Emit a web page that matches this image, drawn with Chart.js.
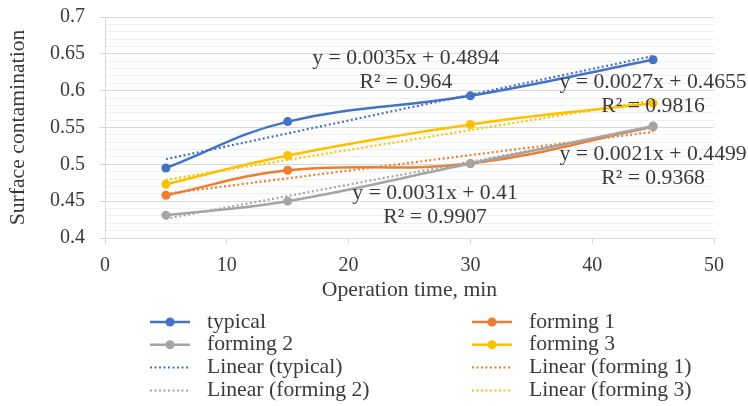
<!DOCTYPE html>
<html>
<head>
<meta charset="utf-8">
<script src="https://cdn.jsdelivr.net/npm/chart.js@4.4.1/dist/chart.umd.min.js"></script>
<style>
  html, body { margin: 0; padding: 0; background: #fff; }
  #wrap { position: relative; width: 748px; height: 406px; }
</style>
</head>
<body>
<div id="wrap"><canvas id="chart" width="748" height="406"></canvas></div>
<script>
// operation time, min
const times = [5, 15, 30, 45];

// surface contamination per series
const typical = [0.495, 0.558, 0.593, 0.642];
const forming1 = [0.458, 0.492, 0.501, 0.551];
const forming2 = [0.431, 0.450, 0.501, 0.552];
const forming3 = [0.473, 0.512, 0.554, 0.583];

// linear trend lines, value at first and last time
const trendTimes = [5, 45];
const typicalTrend = [0.507, 0.647];
const forming1Trend = [0.460, 0.544];
const forming2Trend = [0.426, 0.550];
const forming3Trend = [0.479, 0.587];

const trendEquations = ['y = 0.0035x + 0.4894', 'y = 0.0021x + 0.4499', 'y = 0.0031x + 0.41', 'y = 0.0027x + 0.4655'];
const trendR2 = ['R² = 0.964', 'R² = 0.9368', 'R² = 0.9907', 'R² = 0.9816'];

const yTickLabels = ['0.4', '0.45', '0.5', '0.55', '0.6', '0.65', '0.7'];

const FONT = "'Liberation Serif', 'Times New Roman', serif";
const TEXT = '#3a3a3a';

const series = [
    { label: 'typical', values: typical, trend: typicalTrend, color: '#4472C4' },
    { label: 'forming 1', values: forming1, trend: forming1Trend, color: '#ED7D31' },
    { label: 'forming 2', values: forming2, trend: forming2Trend, color: '#A5A5A5' },
    { label: 'forming 3', values: forming3, trend: forming3Trend, color: '#FFC000' },
];

// where the trend equation boxes sit (data coords of the first line centre)
const labelAnchors = [
    { x: 24.7, y: 0.644 },
    { x: 45.0, y: 0.514 },
    { x: 27.1, y: 0.461 },
    { x: 45.0, y: 0.612 },
];

const lineDatasets = series.map((s, i) => ({
    label: s.label,
    data: times.map((t, k) => ({ x: t, y: s.values[k] })),
    borderColor: s.color,
    backgroundColor: s.color,
    borderWidth: 2.5,
    tension: 0.4,
    pointRadius: 4.5,
    pointBorderWidth: 0,
    pointBackgroundColor: s.color,
    order: 8 - i,
}));

const trendDatasets = series.map((s, i) => ({
    label: 'Linear (' + s.label + ')',
    data: trendTimes.map((t, k) => ({ x: t, y: s.trend[k] })),
    borderColor: s.color,
    borderWidth: 2.2,
    borderDash: [2, 2.5],
    pointRadius: 0,
    isTrend: true,
    order: 4 - i,
}));

const trendLabels = {
    id: 'trendLabels',
    afterDatasetsDraw(chart) {
        const { ctx, scales } = chart;
        ctx.save();
        ctx.font = '21.7px ' + FONT;
        ctx.fillStyle = TEXT;
        ctx.textAlign = 'center';
        ctx.textBaseline = 'middle';
        labelAnchors.forEach((a, i) => {
            const px = scales.x.getPixelForValue(a.x);
            const py = scales.y.getPixelForValue(a.y);
            ctx.fillText(trendEquations[i], px, py);
            ctx.fillText(trendR2[i], px, py + 24.5);
        });
        ctx.restore();
    },
};

// two column legend, filled row by row like the original
const legendBox = {
    id: 'legendBox',
    afterDraw(chart) {
        const { ctx } = chart;
        const colX = [150, 472];
        const rowY = 322;
        const pitch = 22.8;
        ctx.save();
        ctx.font = '21.7px ' + FONT;
        ctx.textBaseline = 'middle';
        ctx.textAlign = 'left';
        chart.data.datasets.forEach((ds, i) => {
            const x = colX[i % 2];
            const y = rowY + Math.floor(i / 2) * pitch;
            ctx.strokeStyle = ds.borderColor;
            ctx.lineWidth = ds.isTrend ? 2 : 2.5;
            ctx.setLineDash(ds.isTrend ? [2, 2.5] : []);
            ctx.beginPath();
            ctx.moveTo(x, y);
            ctx.lineTo(x + 40, y);
            ctx.stroke();
            ctx.setLineDash([]);
            if (!ds.isTrend) {
                ctx.fillStyle = ds.borderColor;
                ctx.beginPath();
                ctx.arc(x + 20, y, 4.5, 0, Math.PI * 2);
                ctx.fill();
            }
            ctx.fillStyle = TEXT;
            ctx.fillText(ds.label, x + 57, y);
        });
        ctx.restore();
    },
};

const isMajor = (v) => Math.round(v * 100) % 5 === 0;

new Chart(document.getElementById('chart'), {
    type: 'line',
    data: { datasets: [...lineDatasets, ...trendDatasets] },
    plugins: [trendLabels, legendBox],
    options: {
        responsive: false,
        animation: false,
        events: [],
        layout: { padding: { top: 17, right: 34, bottom: 103, left: 0 } },
        plugins: {
            legend: { display: false },
            tooltip: { enabled: false },
        },
        scales: {
            x: {
                type: 'linear',
                min: 0,
                max: 50,
                afterFit(scale) { scale.height = 65; },
                grid: { drawOnChartArea: false, drawTicks: true, tickLength: 6, tickColor: '#d9d9d9' },
                border: { color: '#d9d9d9', width: 1 },
                ticks: {
                    stepSize: 10,
                    padding: 10,
                    color: TEXT,
                    font: { family: FONT, size: 20 },
                    maxRotation: 0,
                },
                title: {
                    display: true,
                    text: 'Operation time, min',
                    color: TEXT,
                    font: { family: FONT, size: 21.7 },
                    padding: { top: 0, bottom: 0 },
                },
            },
            y: {
                min: 0.4,
                max: 0.7,
                afterFit(scale) {
                    scale.width = 105;
                    scale.paddingTop = 0;
                    scale.paddingBottom = 0;
                },
                grid: {
                    tickLength: 6,
                    color: (c) => (c.tick && isMajor(c.tick.value) ? '#d9d9d9' : '#f0f0f0'),
                    tickColor: (c) => (c.tick && isMajor(c.tick.value) ? '#d9d9d9' : 'rgba(0,0,0,0)'),
                },
                border: { color: '#d9d9d9', width: 1 },
                ticks: {
                    stepSize: 0.01,
                    autoSkip: false,
                    padding: 14,
                    color: TEXT,
                    font: { family: FONT, size: 20 },
                    callback: (v) => {
                        const k = Math.round(v * 100);
                        return k % 5 === 0 ? yTickLabels[(k - 40) / 5] : '';
                    },
                },
                title: {
                    display: true,
                    text: 'Surface contamination',
                    color: TEXT,
                    font: { family: FONT, size: 21.7 },
                    padding: { top: 5, bottom: 0 },
                },
            },
        },
    },
});
</script>
</body>
</html>
